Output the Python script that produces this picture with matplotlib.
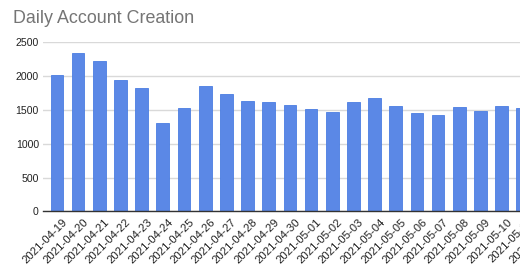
import matplotlib
matplotlib.use("Agg")
import matplotlib.pyplot as plt
import matplotlib.transforms as mtransforms

dates = ["2021-04-19", "2021-04-20", "2021-04-21", "2021-04-22", "2021-04-23",
         "2021-04-24", "2021-04-25", "2021-04-26", "2021-04-27", "2021-04-28",
         "2021-04-29", "2021-04-30", "2021-05-01", "2021-05-02", "2021-05-03",
         "2021-05-04", "2021-05-05", "2021-05-06", "2021-05-07", "2021-05-08",
         "2021-05-09", "2021-05-10", "2021-05-11", "2021-05-12"]
accounts = [2010, 2345, 2225, 1940, 1820, 1303, 1525, 1860, 1738, 1633,
            1618, 1580, 1510, 1470, 1618, 1673, 1564, 1456, 1431, 1540,
            1490, 1564, 1525, 1500]
yticks = [0, 500, 1000, 1500, 2000, 2500]

plt.rcParams['font.family'] = ['Liberation Sans', 'DejaVu Sans']

fig = plt.figure(figsize=(5.2, 2.72), dpi=100)
# axes runs past the right edge, like the cropped screenshot
ax = fig.add_axes([43 / 520, 0.2228, 511.5 / 520, 0.6217])

x = list(range(len(dates)))
ax.bar(x, accounts, width=0.6, color="#5b88e6", edgecolor="#4a7de2",
       linewidth=0.6, zorder=3)

ax.set_xlim(-0.66, 23.5)
ax.set_ylim(0, 2500)
ax.set_yticks(yticks)
ax.set_yticklabels([str(v) for v in yticks], fontsize=7.6, color="#222222")
ax.set_xticks(x)
ax.set_xticklabels(dates, rotation=45, ha="right", va="top",
                   rotation_mode="anchor", fontsize=8.2, color="#222222")
ax.tick_params(axis="both", length=0)
ax.tick_params(axis="y", pad=3)
ax.tick_params(axis="x", pad=4)

# nudge the rotated date labels a little to the right
shift = mtransforms.ScaledTranslation(5 / 100, 0, fig.dpi_scale_trans)
for lbl in ax.get_xticklabels():
    lbl.set_transform(lbl.get_transform() + shift)

ax.grid(axis="y", color="#d9d9d9", linewidth=1, zorder=0)
for s in ["top", "right", "left"]:
    ax.spines[s].set_visible(False)
ax.spines["bottom"].set_color("#333333")
ax.spines["bottom"].set_linewidth(1)
ax.spines["bottom"].set_zorder(4)

fig.text(13 / 520, 1 - 18.5 / 272, "Daily Account Creation", fontsize=12.9,
         color="#757575", ha="left", va="center")

fig.savefig("out.png", dpi=100)
